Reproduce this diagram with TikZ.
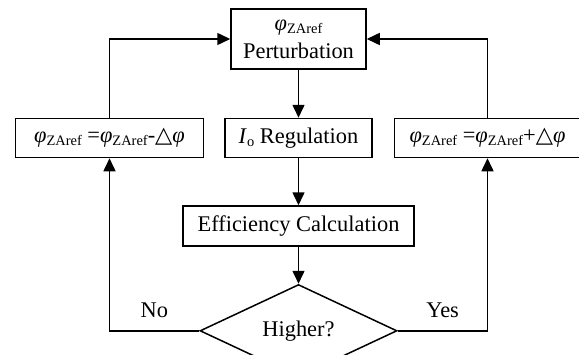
\documentclass[tikz,border=0pt]{standalone}
\usepackage{fontspec}
\setmainfont{Liberation Serif}
\newfontfamily\symfont{DejaVu Sans}
\usetikzlibrary{arrows.meta,shapes.geometric,positioning}
\newcommand{\phiref}{{\itshape φ}\raisebox{-3bp}{\fontsize{14.5}{16}\selectfont ZAref}}
\newcommand{\dphi}{{\symfont △}{\itshape φ}}
\tikzstyle{arrow} = [line width=1.5bp,-{Triangle[length=13bp,width=12bp]}]
\tikzstyle{process} = [rectangle, draw, line width=1.5bp, minimum height=39bp, inner sep=0pt, align=center, font=\fontsize{22.5}{26}\selectfont]
\tikzstyle{decision} = [diamond, draw, line width=1.5bp, minimum width=197bp, minimum height=74bp, inner sep=0pt, font=\fontsize{22.5}{26}\selectfont]
\tikzstyle{branch} = [above=12bp, inner sep=0pt, font=\fontsize{22.5}{26}\selectfont]

\begin{document}
\begin{tikzpicture}[x=1bp,y=1bp]
\useasboundingbox (0,0) rectangle (579,354);
% Nodes
\node (perturb) [process, minimum width=135bp, minimum height=60bp] at (298.5,315) {\phiref\\[2bp]Perturbation};
\node (regul) [process, minimum width=147bp, below=48bp of perturb] {\textit{I}\raisebox{-3bp}{\fontsize{14.5}{16}\selectfont o} Regulation};
\node (effic) [process, minimum width=231bp, minimum height=40bp, below=47bp of regul] {Efficiency Calculation};
\node (higher) [decision, below=37bp of effic] {Higher?};
\node (decr) [process, minimum width=188bp, left=20bp of regul] {\phiref{} =\phiref-\dphi};
\node (incr) [process, minimum width=186bp, right=21bp of regul] {\phiref{} =\phiref+\dphi};

% Arrows
\draw[arrow] (perturb) -- (regul);
\draw[arrow] (regul) -- (effic);
\draw[arrow] (effic) -- (higher);
\draw[arrow] (higher.west) -| node[branch, pos=0.25] {No} (decr.south);
\draw[arrow] (higher.east) -| node[branch, pos=0.25] {Yes} (incr.south);
\draw[arrow] (decr.north) |- (perturb.west);
\draw[arrow] (incr.north) |- (perturb.east);
\end{tikzpicture}
\end{document}
